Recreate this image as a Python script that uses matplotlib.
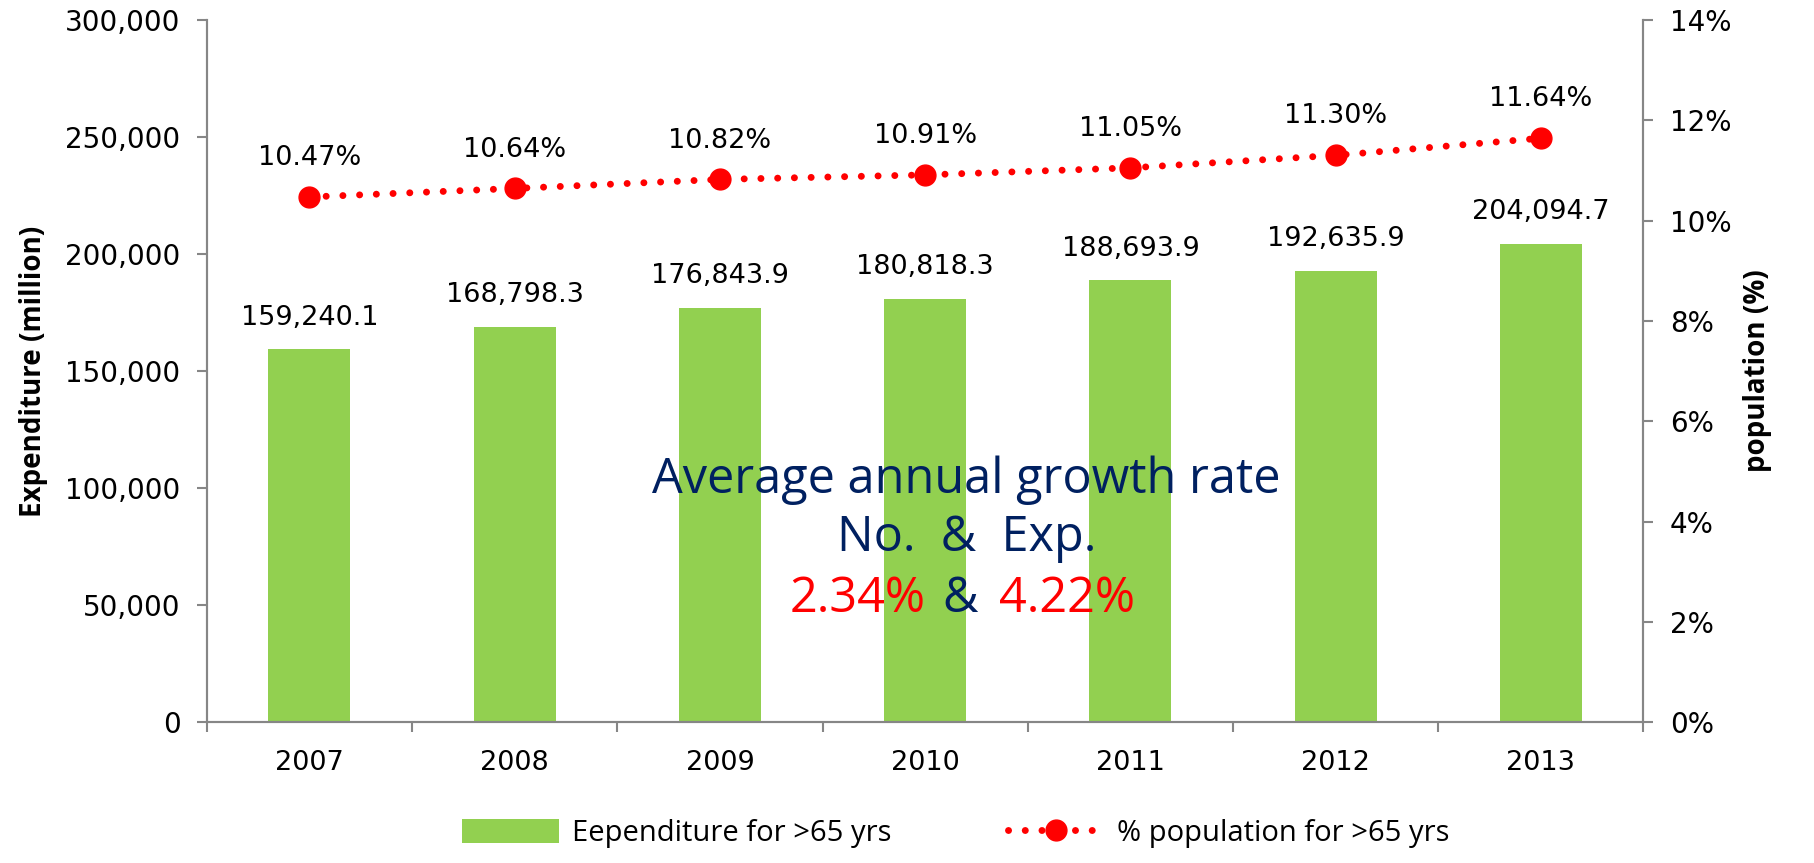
import matplotlib.pyplot as plt
from matplotlib.ticker import FuncFormatter

# data
years = ['2007', '2008', '2009', '2010', '2011', '2012', '2013']
expenditure = [159240.1, 168798.3, 176843.9, 180818.3, 188693.9, 192635.9, 204094.7]
pop_pct = [10.47, 10.64, 10.82, 10.91, 11.05, 11.30, 11.64]
growth_no = '2.34%'
growth_exp = '4.22%'

green = '#92D050'
red = '#FF0000'
navy = '#002060'
gray = '#868686'

plt.rcParams['font.family'] = 'DejaVu Sans'

fig = plt.figure(figsize=(18.14, 8.63), dpi=100)
ax = fig.add_axes([0.114, 0.163, 0.792, 0.814])
ax2 = ax.twinx()

x = list(range(len(years)))
ax.bar(x, expenditure, width=0.4, color=green, zorder=2,
       label='Eependiture for >65 yrs')
for xi, v in zip(x, expenditure):
    ax.annotate(f'{v:,.1f}', (xi, v), xytext=(0, 23), textcoords='offset points',
                ha='center', va='center', fontsize=19.5)

ax.set_xlim(-0.5, len(years) - 0.5)
ax.set_ylim(0, 300000)
ax.set_yticks(range(0, 300001, 50000))
ax.yaxis.set_major_formatter(FuncFormatter(lambda v, p: f'{int(v):,}'))
ax.set_xticks(x)
ax.set_xticklabels(years)
ax.set_xticks([i - 0.5 for i in range(len(years) + 1)], minor=True)
ax.tick_params(axis='x', which='major', length=0, labelsize=19.5, pad=20)
ax.tick_params(axis='x', which='minor', length=7, color=gray, width=1.5)
ax.tick_params(axis='y', length=7, color=gray, width=1.5, labelsize=20, pad=12)
ax.set_ylabel('Expenditure (million)', fontsize=20, fontweight='bold',
              family='Open Sans', labelpad=12)

# dotted line with round dots, like Excel's "round dot" dash
ax2.plot(x, pop_pct, color=red, linestyle=(0, (0.01, 2.4)), linewidth=5,
         dash_capstyle='round', marker='o', markersize=15, zorder=3,
         label='% population for >65 yrs')
for xi, v in zip(x, pop_pct):
    ax2.annotate(f'{v:.2f}%', (xi, v), xytext=(0, 28), textcoords='offset points',
                 ha='center', va='center', fontsize=19.5)
ax2.set_ylim(0, 14)
ax2.set_yticks(range(0, 15, 2))
ax2.yaxis.set_major_formatter(FuncFormatter(lambda v, p: f'{int(v)}%'))
ax2.tick_params(axis='y', length=7, color=gray, width=1.5, labelsize=20, pad=12)
ax2.set_ylabel('population (%)', fontsize=20, fontweight='bold',
               family='Open Sans', labelpad=8)

for a in (ax, ax2):
    a.spines['top'].set_visible(False)
    for side in ('left', 'right', 'bottom'):
        a.spines[side].set_color(gray)
        a.spines[side].set_linewidth(1.5)

# growth rate note in the middle
note = dict(fontsize=35, family='Open Sans', va='center')
ax.text(3.2, 103400, 'Average annual growth rate', ha='center', color=navy, **note)
ax.text(3.2, 78600, 'No.  &  Exp.', ha='center', color=navy, **note)
ax.text(3.0, 52600, growth_no, ha='right', color=red, **note)
ax.text(3.17, 52600, '&', ha='center', color=navy, **note)
ax.text(3.36, 52600, growth_exp, ha='left', color=red, **note)

h1, l1 = ax.get_legend_handles_labels()
h2, l2 = ax2.get_legend_handles_labels()
fig.legend(h1 + h2, l1 + l2, loc='center', bbox_to_anchor=(0.527, 0.034), ncol=2,
           frameon=False, prop={'family': 'Open Sans', 'size': 21},
           handlelength=3.3, handleheight=0.9, handletextpad=0.45,
           columnspacing=4.0)

fig.savefig('out.png', dpi=100)
